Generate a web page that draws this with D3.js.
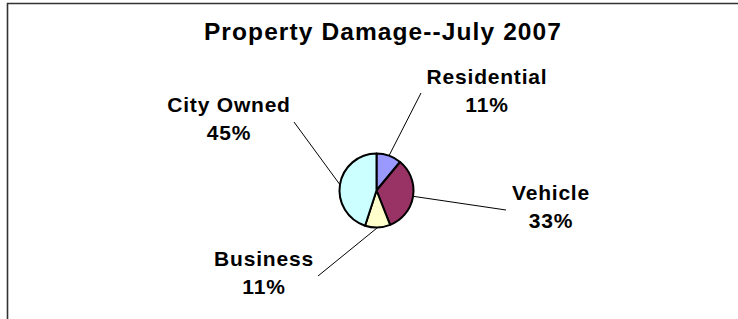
<!DOCTYPE html>
<html><head><meta charset="utf-8">
<script src="https://cdn.jsdelivr.net/npm/d3@7"></script>
<style>
html,body{margin:0;padding:0;background:#fff;}
svg{display:block;}
text{font-family:"Liberation Sans",Arial,sans-serif;font-weight:bold;fill:#000;}
</style></head>
<body>
<script>
const title = "Property Damage--July 2007";
const categories = ["Residential", "Vehicle", "Business", "City Owned"];
const values = [11, 33, 11, 45];
const percentLabels = ["11%", "33%", "11%", "45%"];
const colors = ["#9999FF", "#993366", "#FFFFCC", "#CCFFFF"];

// layout (label anchor positions and leader end points)
const labelPos = [
  {x: 487, y: 84, lx: 421, ly: 93},
  {x: 551, y: 200, lx: 506, ly: 210},
  {x: 264, y: 266, lx: 318, ly: 276},
  {x: 229, y: 112, lx: 294, ly: 122}
];

const W = 738, H = 319;
const cx = 376.5, cy = 190.5, R = 37;

const svg = d3.select("body").append("svg").attr("width", W).attr("height", H);

// frame
svg.append("path")
  .attr("d", `M7.5,${H+2}V3.5H${W+2}`)
  .attr("fill", "none").attr("stroke", "#333").attr("stroke-width", 1.6);

svg.append("text").attr("x", 383).attr("y", 39.5).attr("text-anchor", "middle")
  .style("font-size", "24.5px").style("letter-spacing", "1.1px").text(title);

const pie = d3.pie().sort(null).value(d => d)(values);
const arc = d3.arc().innerRadius(0).outerRadius(R);
const g = svg.append("g").attr("transform", `translate(${cx},${cy})`);

g.selectAll("path.slice").data(pie).join("path").attr("class", "slice")
  .attr("d", arc).attr("fill", (d, i) => colors[i])
  .attr("stroke", "#000").attr("stroke-width", 2).attr("stroke-linejoin", "round");

// leader lines
pie.forEach((d, i) => {
  const a = (d.startAngle + d.endAngle) / 2;
  const sx = cx + R * Math.sin(a), sy = cy - R * Math.cos(a);
  svg.append("line").attr("x1", sx).attr("y1", sy)
    .attr("x2", labelPos[i].lx).attr("y2", labelPos[i].ly)
    .attr("stroke", "#000").attr("stroke-width", 1);
});

categories.forEach((c, i) => {
  const p = labelPos[i];
  const t = svg.append("text").attr("text-anchor", "middle")
    .style("font-size", "21px").style("letter-spacing", "0.8px");
  t.append("tspan").attr("x", p.x).attr("y", p.y).text(c);
  t.append("tspan").attr("x", p.x).attr("y", p.y + 28).text(percentLabels[i]);
});
</script>
</body></html>
